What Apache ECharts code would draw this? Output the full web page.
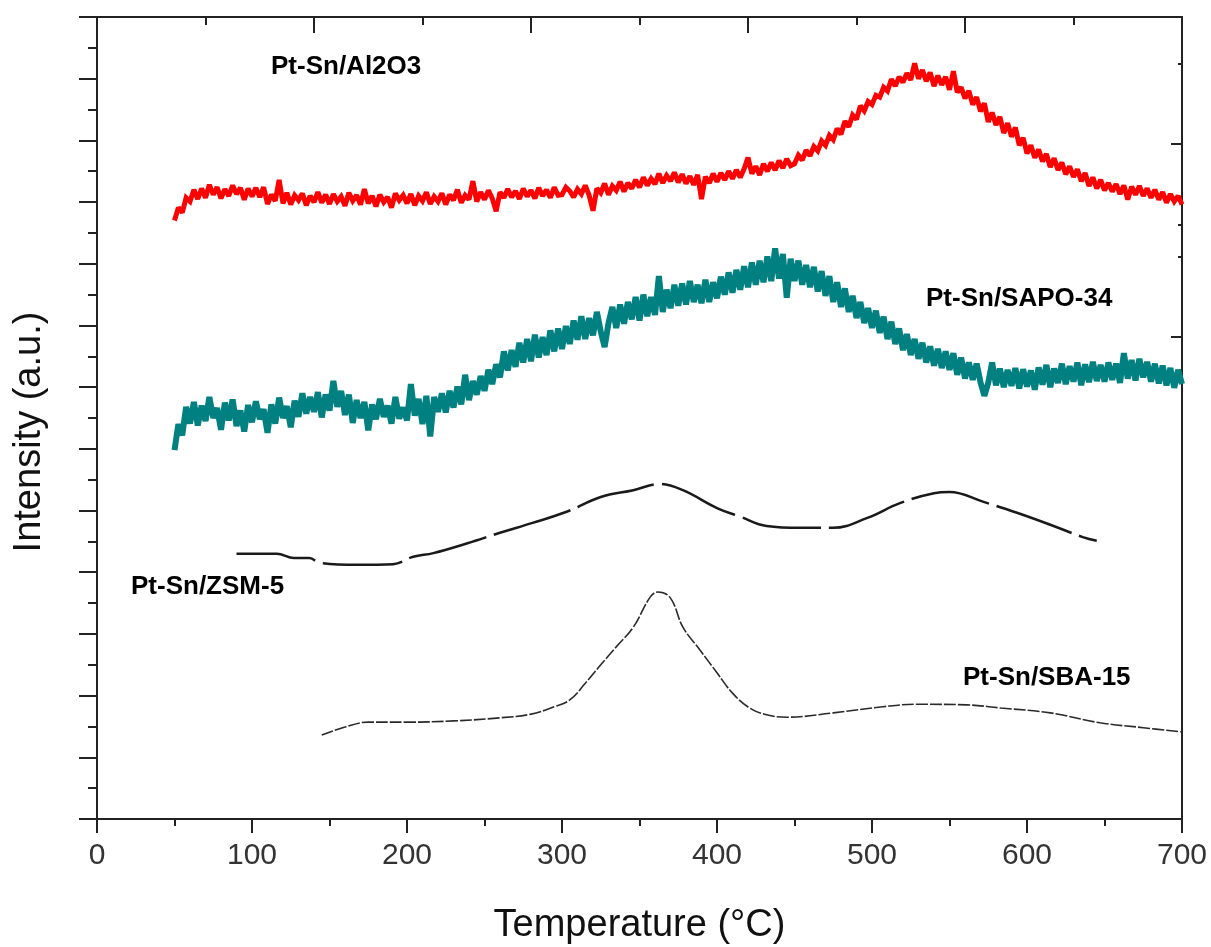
<!DOCTYPE html>
<html>
<head>
<meta charset="utf-8">
<script src="https://cdn.jsdelivr.net/npm/echarts@6/dist/echarts.min.js"></script>
<style>
  html, body { margin: 0; padding: 0; background: #fff; }
  #chart { width: 1211px; height: 947px; }
</style>
</head>
<body>
<div id="chart"></div>
<script>
// ---- Data ----
// Noisy TPR traces sampled every 2.5 °C from 50 °C to 700 °C
const noisyTempStart = 50;
const noisyTempStep = 2.5;

const al2o3Values = [
  970,991,983,1007,1001,1020,1005,1022,1007,1028,1012,1024,1006,1021,1010,1027,1013,1023,1004,1022,
  1009,1023,1008,1024,997,1012,1002,1036,998,1015,996,1011,1003,1014,995,1010,1000,1016,999,1012,
  997,1013,1001,1009,994,1015,1002,1011,996,1021,998,1010,993,1012,1000,1008,991,1014,1003,1011,
  998,1013,995,1010,1002,1016,997,1009,1001,1014,996,1012,1003,1020,999,1011,1004,1034,1001,1016,
  1004,1019,1006,985,1016,1007,1021,1008,1018,1005,1022,1009,1019,1006,1023,1010,1020,1007,1024,1011,
  1012,1024,1018,1008,1021,1013,1027,1011,986,1022,1015,1030,1012,1026,1019,1033,1017,1031,1022,1036,
  1024,1040,1027,1038,1029,1046,1031,1043,1034,1048,1032,1045,1030,1042,1028,1044,1005,1041,1031,1046,
  1033,1047,1036,1050,1038,1052,1040,1054,1072,1046,1058,1044,1062,1050,1064,1052,1067,1055,1070,1059,
  1062,1076,1068,1084,1075,1090,1083,1099,1092,1108,1101,1119,1110,1131,1122,1141,1134,1156,1148,1163,
  1158,1173,1170,1186,1180,1199,1188,1203,1194,1209,1198,1225,1200,1214,1196,1210,1188,1205,1190,1203,
  1182,1212,1178,1186,1168,1180,1158,1170,1147,1160,1130,1145,1125,1138,1112,1128,1106,1121,1092,1104,
  1079,1092,1072,1085,1066,1078,1057,1071,1052,1064,1045,1058,1041,1053,1034,1047,1026,1040,1022,1036,
  1019,1031,1017,1029,1013,1027,1004,1025,1012,1026,1010,1022,1007,1020,1004,1016,999,1013,1001,1010,996
];

const sapo34Values = [
  598,640,622,668,641,676,638,670,645,684,650,666,631,675,646,680,637,662,628,671,
  643,677,648,664,626,672,641,683,650,669,635,678,652,690,657,684,660,692,651,688,
  662,710,668,694,655,688,642,679,650,676,630,672,648,681,652,670,641,684,649,667,
  646,705,654,681,640,686,620,684,660,690,659,694,667,701,672,720,679,710,688,718,
  694,728,705,737,716,758,727,760,733,772,740,778,742,785,748,781,752,792,758,795,
  762,799,770,808,777,815,778,812,784,822,790,765,804,830,796,834,803,838,810,846,
  808,850,815,846,817,880,822,858,828,866,832,868,834,872,838,866,836,874,838,870,
  844,879,850,886,853,890,858,896,862,902,866,905,870,912,872,925,876,916,845,908,
  872,905,866,898,862,895,855,888,848,880,838,870,830,860,822,848,812,838,804,828,
  796,824,788,814,778,806,770,795,760,786,752,778,746,772,740,766,735,762,731,758,
  728,755,720,748,714,740,712,738,708,686,707,740,703,730,700,728,702,731,698,729,
  701,727,696,732,704,736,700,730,707,738,705,734,709,740,703,737,708,741,710,736,
  709,740,712,738,707,755,714,744,711,746,716,741,709,738,706,735,703,731,699,728,705
];

// Smooth traces
const zsm5Temps  = [90,116,127,137,144,168,191,204,217,239,260,281,303,325,346,363,378,400,415,432,454,475,497,518,540,550,572,594,615,636,645];
const zsm5Values = [430,430,423,423,415,412,413,425,431,447,464,480,498,522,533,543,533,504,490,475,472,472,488,512,528,530,514,496,477,457,451];

const sba15Temps  = [145,160,175,200,230,260,280,295,305,315,325,335,346,357,362,370,378,389,400,410,421,432,445,475,507,529,561,583,615,647,675,700];
const sba15Values = [136,149,157,157,159,164,170,182,193,220,250,279,311,360,368,358,311,274,237,204,180,169,165,172,182,186,185,180,172,156,148,141];

// Axis ticks
const xBottomTicks = { min: 0, max: 700, interval: 100 };
const xTopTicks = { min: 0, max: 700, interval: 140 };
const yTicks = { min: 0, max: 1300, interval: 100 };
const rightMajorTicks = [1094, 781];
const rightMinorTicks = [1225, 963, 911];

const seriesNames = ['Pt-Sn/Al2O3', 'Pt-Sn/SAPO-34', 'Pt-Sn/ZSM-5', 'Pt-Sn/SBA-15'];

// ---- Build ----
function pairsFromStep(start, step, vals) {
  return vals.map((v, i) => [start + i * step, v]);
}
function pairs(ts, vs) { return ts.map((t, i) => [t, vs[i]]); }

const FF = 'Liberation Sans, Arial, Helvetica, sans-serif';
const AX = { color: '#222', width: 2 };

const chart = echarts.init(document.getElementById('chart'), null, { renderer: 'canvas' });

const option = {
  animation: false,
  backgroundColor: '#ffffff',
  grid: { left: 97, right: 29, top: 17, bottom: 128, containLabel: false, outerBoundsMode: 'none' },
  xAxis: [
    {
      type: 'value', position: 'bottom',
      min: xBottomTicks.min, max: xBottomTicks.max, interval: xBottomTicks.interval,
      axisLine: { show: true, onZero: false, lineStyle: AX },
      axisTick: { show: true, length: 14, lineStyle: AX },
      minorTick: { show: true, splitNumber: 2, length: 7, lineStyle: AX },
      splitLine: { show: false },
      axisLabel: { fontSize: 30, color: '#333', margin: 22, fontFamily: FF },
      name: 'Temperature (°C)', nameLocation: 'middle', nameGap: 88,
      nameTextStyle: { fontSize: 38, color: '#111', fontFamily: FF }
    },
    {
      type: 'value', position: 'top',
      min: xTopTicks.min, max: xTopTicks.max, interval: xTopTicks.interval,
      axisLine: { show: true, onZero: false, lineStyle: AX },
      axisTick: { show: true, inside: true, length: 16, lineStyle: AX },
      minorTick: { show: true, splitNumber: 2, length: 8, lineStyle: AX },
      splitLine: { show: false },
      axisLabel: { show: false }
    }
  ],
  yAxis: [
    {
      type: 'value', position: 'left',
      min: yTicks.min, max: yTicks.max, interval: yTicks.interval,
      axisLine: { show: true, onZero: false, lineStyle: AX },
      axisTick: { show: true, length: 18, lineStyle: AX },
      minorTick: { show: true, splitNumber: 2, length: 9, lineStyle: AX },
      splitLine: { show: false },
      axisLabel: { show: false },
      name: 'Intensity (a.u.)', nameLocation: 'middle', nameGap: 48,
      nameTextStyle: { fontSize: 38, color: '#111', fontFamily: FF, padding: [0, 28, 0, 0] }
    },
    {
      type: 'value', position: 'right',
      min: yTicks.min, max: yTicks.max,
      axisLine: { show: true, onZero: false, lineStyle: AX },
      axisTick: { show: true, inside: true, length: 11, lineStyle: AX, customValues: rightMajorTicks },
      splitLine: { show: false },
      axisLabel: { show: false }
    },
    {
      type: 'value', position: 'right',
      min: yTicks.min, max: yTicks.max,
      axisLine: { show: false, onZero: false },
      axisTick: { show: true, inside: true, length: 4, lineStyle: AX, customValues: rightMinorTicks },
      splitLine: { show: false },
      axisLabel: { show: false }
    }
  ],
  series: [
    {
      name: seriesNames[0], type: 'line', xAxisIndex: 0, yAxisIndex: 0,
      data: pairsFromStep(noisyTempStart, noisyTempStep, al2o3Values),
      showSymbol: false, symbol: 'none',
      lineStyle: { color: '#ff0000', width: 5, join: 'miter', miterLimit: 2 }
    },
    {
      name: seriesNames[1], type: 'line', xAxisIndex: 0, yAxisIndex: 0,
      data: pairsFromStep(noisyTempStart, noisyTempStep, sapo34Values),
      showSymbol: false, symbol: 'none',
      lineStyle: { color: '#008080', width: 6, join: 'miter', miterLimit: 2 }
    },
    {
      name: seriesNames[2], type: 'line', xAxisIndex: 0, yAxisIndex: 0,
      data: pairs(zsm5Temps, zsm5Values),
      showSymbol: false, symbol: 'none', smooth: 0.4,
      lineStyle: { color: '#1a1a1a', width: 2.5, type: [80, 8] }
    },
    {
      name: seriesNames[3], type: 'line', xAxisIndex: 0, yAxisIndex: 0,
      data: pairs(sba15Temps, sba15Values),
      showSymbol: false, symbol: 'none', smooth: 0.4,
      lineStyle: { color: '#2a2a2a', width: 1.6, type: [12, 2] }
    }
  ],
  graphic: [
    { type: 'text', x: 271, y: 67, style: { text: seriesNames[0], font: 'bold 26px ' + FF, fill: '#000', verticalAlign: 'middle' } },
    { type: 'text', x: 926, y: 299, style: { text: seriesNames[1], font: 'bold 26px ' + FF, fill: '#000', verticalAlign: 'middle' } },
    { type: 'text', x: 131, y: 587, style: { text: seriesNames[2], font: 'bold 26px ' + FF, fill: '#000', verticalAlign: 'middle' } },
    { type: 'text', x: 963, y: 678, style: { text: seriesNames[3], font: 'bold 26px ' + FF, fill: '#000', verticalAlign: 'middle' } }
  ]
};

chart.setOption(option);
</script>
</body>
</html>
